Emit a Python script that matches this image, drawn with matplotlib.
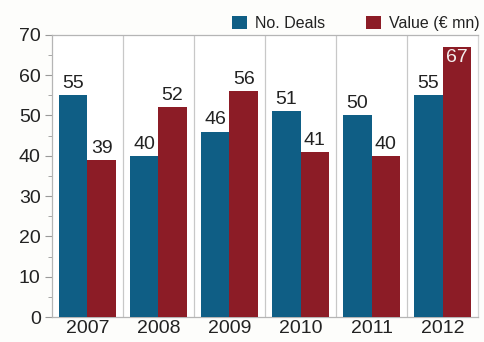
import numpy as np
import matplotlib.pyplot as plt

years = ['2007', '2008', '2009', '2010', '2011', '2012']
deals = [55, 40, 46, 51, 50, 55]
value = [39, 52, 56, 41, 40, 67]

BLUE = '#0f5e85'
RED = '#8c1c26'
GRID = '#c8c8c8'

plt.rcParams['font.family'] = ['Liberation Sans', 'DejaVu Sans']

fig = plt.figure(figsize=(4.84, 3.42), dpi=100)
fig.patch.set_facecolor('#fdfdfb')
ax = fig.add_axes([0.107, 0.073, 0.881, 0.825])
ax.set_facecolor('white')

x = np.arange(len(years))
w = 0.4
b1 = ax.bar(x - w / 2, deals, w, color=BLUE, label='No. Deals', zorder=3)
b2 = ax.bar(x + w / 2, value, w, color=RED, label='Value (€ mn)', zorder=3)

for rect, v in zip(b1, deals):
    ax.text(rect.get_x() + rect.get_width() / 2, v + 0.8, str(v),
            ha='center', va='bottom', fontsize=14, color='#222222')
for rect, v in zip(b2, value):
    if v > 62:
        ax.text(rect.get_x() + rect.get_width() / 2, v - 0.6, str(v),
                ha='center', va='top', fontsize=14, color='#f4eeee')
    else:
        ax.text(rect.get_x() + rect.get_width() / 2, v + 0.8, str(v),
                ha='center', va='bottom', fontsize=14, color='#222222')

ax.set_xlim(-0.5, len(years) - 0.5)
ax.set_ylim(0, 70)
ax.set_yticks(range(0, 71, 10))
ax.set_yticks(range(5, 70, 10), minor=True)
ax.set_xticks(x)
ax.set_xticklabels(years)
ax.tick_params(axis='both', labelsize=14, colors='#222222')
ax.tick_params(axis='y', length=5, color='#999999', pad=3)
ax.tick_params(axis='y', which='minor', length=3, color='#999999')
ax.tick_params(axis='x', length=0, pad=2)

# separators between categories
for s in np.arange(0.5, len(years) - 0.5, 1.0):
    ax.axvline(s, color=GRID, lw=0.9, zorder=1)
for side in ['left', 'top', 'right', 'bottom']:
    ax.spines[side].set_color('#b5b5b5')
    ax.spines[side].set_linewidth(0.9)
ax.spines['right'].set_color('#d5d5d5')

leg = fig.legend(handles=[b1, b2], loc='center right', bbox_to_anchor=(0.99, 0.932),
                 ncol=2, frameon=False, fontsize=11.5, handlelength=0.95, handleheight=0.95,
                 handletextpad=0.45, columnspacing=2.6, borderaxespad=0, borderpad=0)
for t in leg.get_texts():
    t.set_color('#222222')

fig.savefig('out.png', dpi=100, facecolor=fig.get_facecolor())
